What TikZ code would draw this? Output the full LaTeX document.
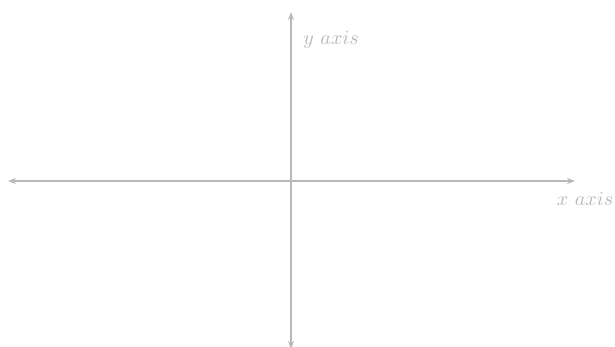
\documentclass[tikz,border=0pt]{standalone}
\usetikzlibrary{arrows.meta}
\begin{document}
\begin{tikzpicture}[x=0.5pt,y=-0.5pt,
  axisline/.style={draw=black!28, line width=0.65pt, {Stealth[length=4pt,width=3pt]}-{Stealth[length=4pt,width=3pt]}},
  axislabel/.style={text=black!28, font=\normalsize}]
\clip (0,0) rectangle (615,347);
\useasboundingbox (0,0) rectangle (615,347);
\coordinate (xl) at (8,181);
\coordinate (xr) at (575,181);
\coordinate (yt) at (291,12);
\coordinate (yb) at (291,349);
\draw[axisline] (xl) -- (xr);
\draw[axisline] (yb) -- (yt);
\node[axislabel] (ylab) at (331,40) {$y\ axis$};
\node[axislabel] (xlab) at (585,199) {$x\ axis$};
\end{tikzpicture}
\end{document}
